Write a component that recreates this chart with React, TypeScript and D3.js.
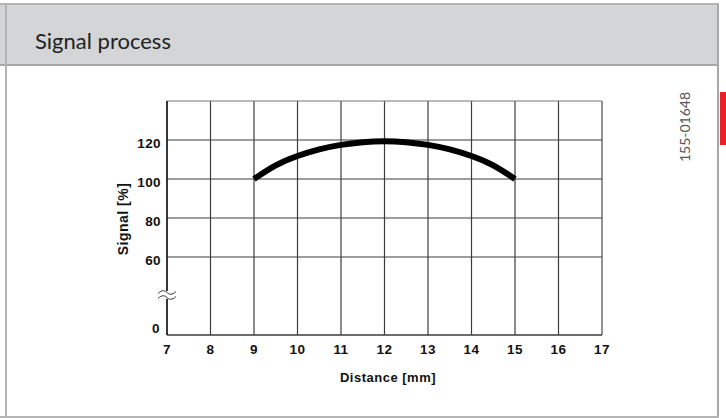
import React, { useEffect, useRef } from 'react';
import * as d3 from 'd3';

// Signal curve (distance in mm, signal in %)
const distance = [9, 9.5, 10, 10.5, 11, 11.5, 12, 12.5, 13, 13.5, 14, 14.5, 15];
const signal = [100, 107, 111.8, 115.2, 117.5, 118.9, 119.4, 118.9, 117.5, 115.2, 111.8, 107, 100];

const xTicks = [7, 8, 9, 10, 11, 12, 13, 14, 15, 16, 17];
// bottom gridline is the broken axis, labelled 0
const yTickValues = [20, 60, 80, 100, 120];
const yTickLabels = ['0', '60', '80', '100', '120'];

const W = 726;
const H = 418;

export default function App() {
  const svgRef = useRef<SVGSVGElement>(null);

  useEffect(() => {
    const svg = d3.select(svgRef.current);
    svg.selectAll('*').remove();

    // frame
    svg.append('rect').attr('x', 0).attr('y', 4).attr('width', 719).attr('height', 61).attr('fill', '#d4d5d7');
    svg.append('line').attr('x1', 0).attr('x2', 719).attr('y1', 4).attr('y2', 4).attr('stroke', '#b4b4b4').attr('stroke-width', 2);
    svg.append('line').attr('x1', 0).attr('x2', 719).attr('y1', 65).attr('y2', 65).attr('stroke', '#a8a8a8').attr('stroke-width', 2);
    svg.append('line').attr('x1', 6).attr('x2', 6).attr('y1', 4).attr('y2', 417).attr('stroke', '#b4b4b4').attr('stroke-width', 2);
    svg.append('line').attr('x1', 718).attr('x2', 718).attr('y1', 4).attr('y2', 417).attr('stroke', '#a8a8a8').attr('stroke-width', 2);
    svg.append('line').attr('x1', 0).attr('x2', 719).attr('y1', 417).attr('y2', 417).attr('stroke', '#b4b4b4').attr('stroke-width', 2);
    svg.append('rect').attr('x', 720).attr('y', 92).attr('width', 6).attr('height', 53).attr('fill', '#e8202a');

    svg.append('text')
      .attr('x', 35).attr('y', 49)
      .attr('font-family', 'Lato, sans-serif').attr('font-size', 22).attr('fill', '#222')
      .text('Signal process');

    svg.append('text')
      .attr('transform', 'translate(690,127) rotate(-90)')
      .attr('text-anchor', 'middle')
      .attr('font-family', 'Lato, sans-serif').attr('font-size', 14).attr('fill', '#555')
      .text('155-01648');

    // plot
    const x = d3.scaleLinear().domain([7, 17]).range([167, 602]);
    const y = d3.scaleLinear().domain([20, 140]).range([335, 101]);

    const grid = svg.append('g');
    xTicks.forEach((t) => {
      grid.append('line').attr('x1', x(t)).attr('x2', x(t)).attr('y1', y(140)).attr('y2', y(20))
        .attr('stroke', t === 17 ? '#777' : '#3c3c3c').attr('stroke-width', t === 17 ? 1.6 : 1.2);
    });
    [...yTickValues, 140].forEach((t) => {
      grid.append('line').attr('x1', x(7)).attr('x2', x(17)).attr('y1', y(t)).attr('y2', y(t))
        .attr('stroke', t === 140 ? '#777' : '#3c3c3c').attr('stroke-width', t === 20 ? 1.6 : 1.2);
    });
    grid.append('line').attr('x1', x(7)).attr('x2', x(7)).attr('y1', y(140)).attr('y2', y(20))
      .attr('stroke', '#222').attr('stroke-width', 1.6);

    // axis break symbol
    const bx = x(7);
    const by = 295;
    svg.append('rect').attr('x', bx - 2).attr('y', by - 4).attr('width', 4).attr('height', 8).attr('fill', '#fff');
    [-2.5, 2.5].forEach((o) => {
      svg.append('path')
        .attr('d', `M${bx - 9},${by + o + 1} C${bx - 5},${by + o - 3} ${bx - 2},${by + o - 2} ${bx},${by + o} S${bx + 5},${by + o + 3} ${bx + 9},${by + o - 1}`)
        .attr('fill', 'none').attr('stroke', '#333').attr('stroke-width', 1);
    });

    const font = 'Liberation Sans, Arial, sans-serif';
    xTicks.forEach((t) => {
      svg.append('text').attr('x', x(t)).attr('y', 354).attr('text-anchor', 'middle')
        .attr('font-family', font).attr('font-size', 13.5).attr('font-weight', 'bold').attr('fill', '#111')
        .attr('letter-spacing', 0.4)
        .text(String(t));
    });
    yTickValues.forEach((t, i) => {
      svg.append('text').attr('x', t === 20 ? 160 : 161).attr('y', t === 20 ? y(t) - 2 : y(t) + 7.5).attr('text-anchor', 'end')
        .attr('font-family', font).attr('font-size', 13.5).attr('font-weight', 'bold').attr('fill', '#111')
        .attr('letter-spacing', 0.4)
        .text(yTickLabels[i]);
    });

    svg.append('text').attr('x', 388).attr('y', 382).attr('text-anchor', 'middle')
      .attr('font-family', font).attr('font-size', 13).attr('font-weight', 'bold').attr('fill', '#111')
      .attr('letter-spacing', 0.5)
      .text('Distance [mm]');
    svg.append('text').attr('transform', 'translate(128,219) rotate(-90)').attr('text-anchor', 'middle')
      .attr('font-family', font).attr('font-size', 14).attr('font-weight', 'bold').attr('fill', '#111')
      .attr('letter-spacing', 0.5)
      .text('Signal [%]');

    const pts = distance.map((d, i) => [d, signal[i]] as [number, number]);
    const line = d3.line<[number, number]>().x((d) => x(d[0])).y((d) => y(d[1])).curve(d3.curveNatural);
    svg.append('path').datum(pts).attr('d', line).attr('fill', 'none')
      .attr('stroke', '#000').attr('stroke-width', 6);
  }, []);

  return (
    <svg ref={svgRef} width={W} height={H} style={{ position: 'absolute', left: 0, top: 0, background: '#fff' }} />
  );
}
